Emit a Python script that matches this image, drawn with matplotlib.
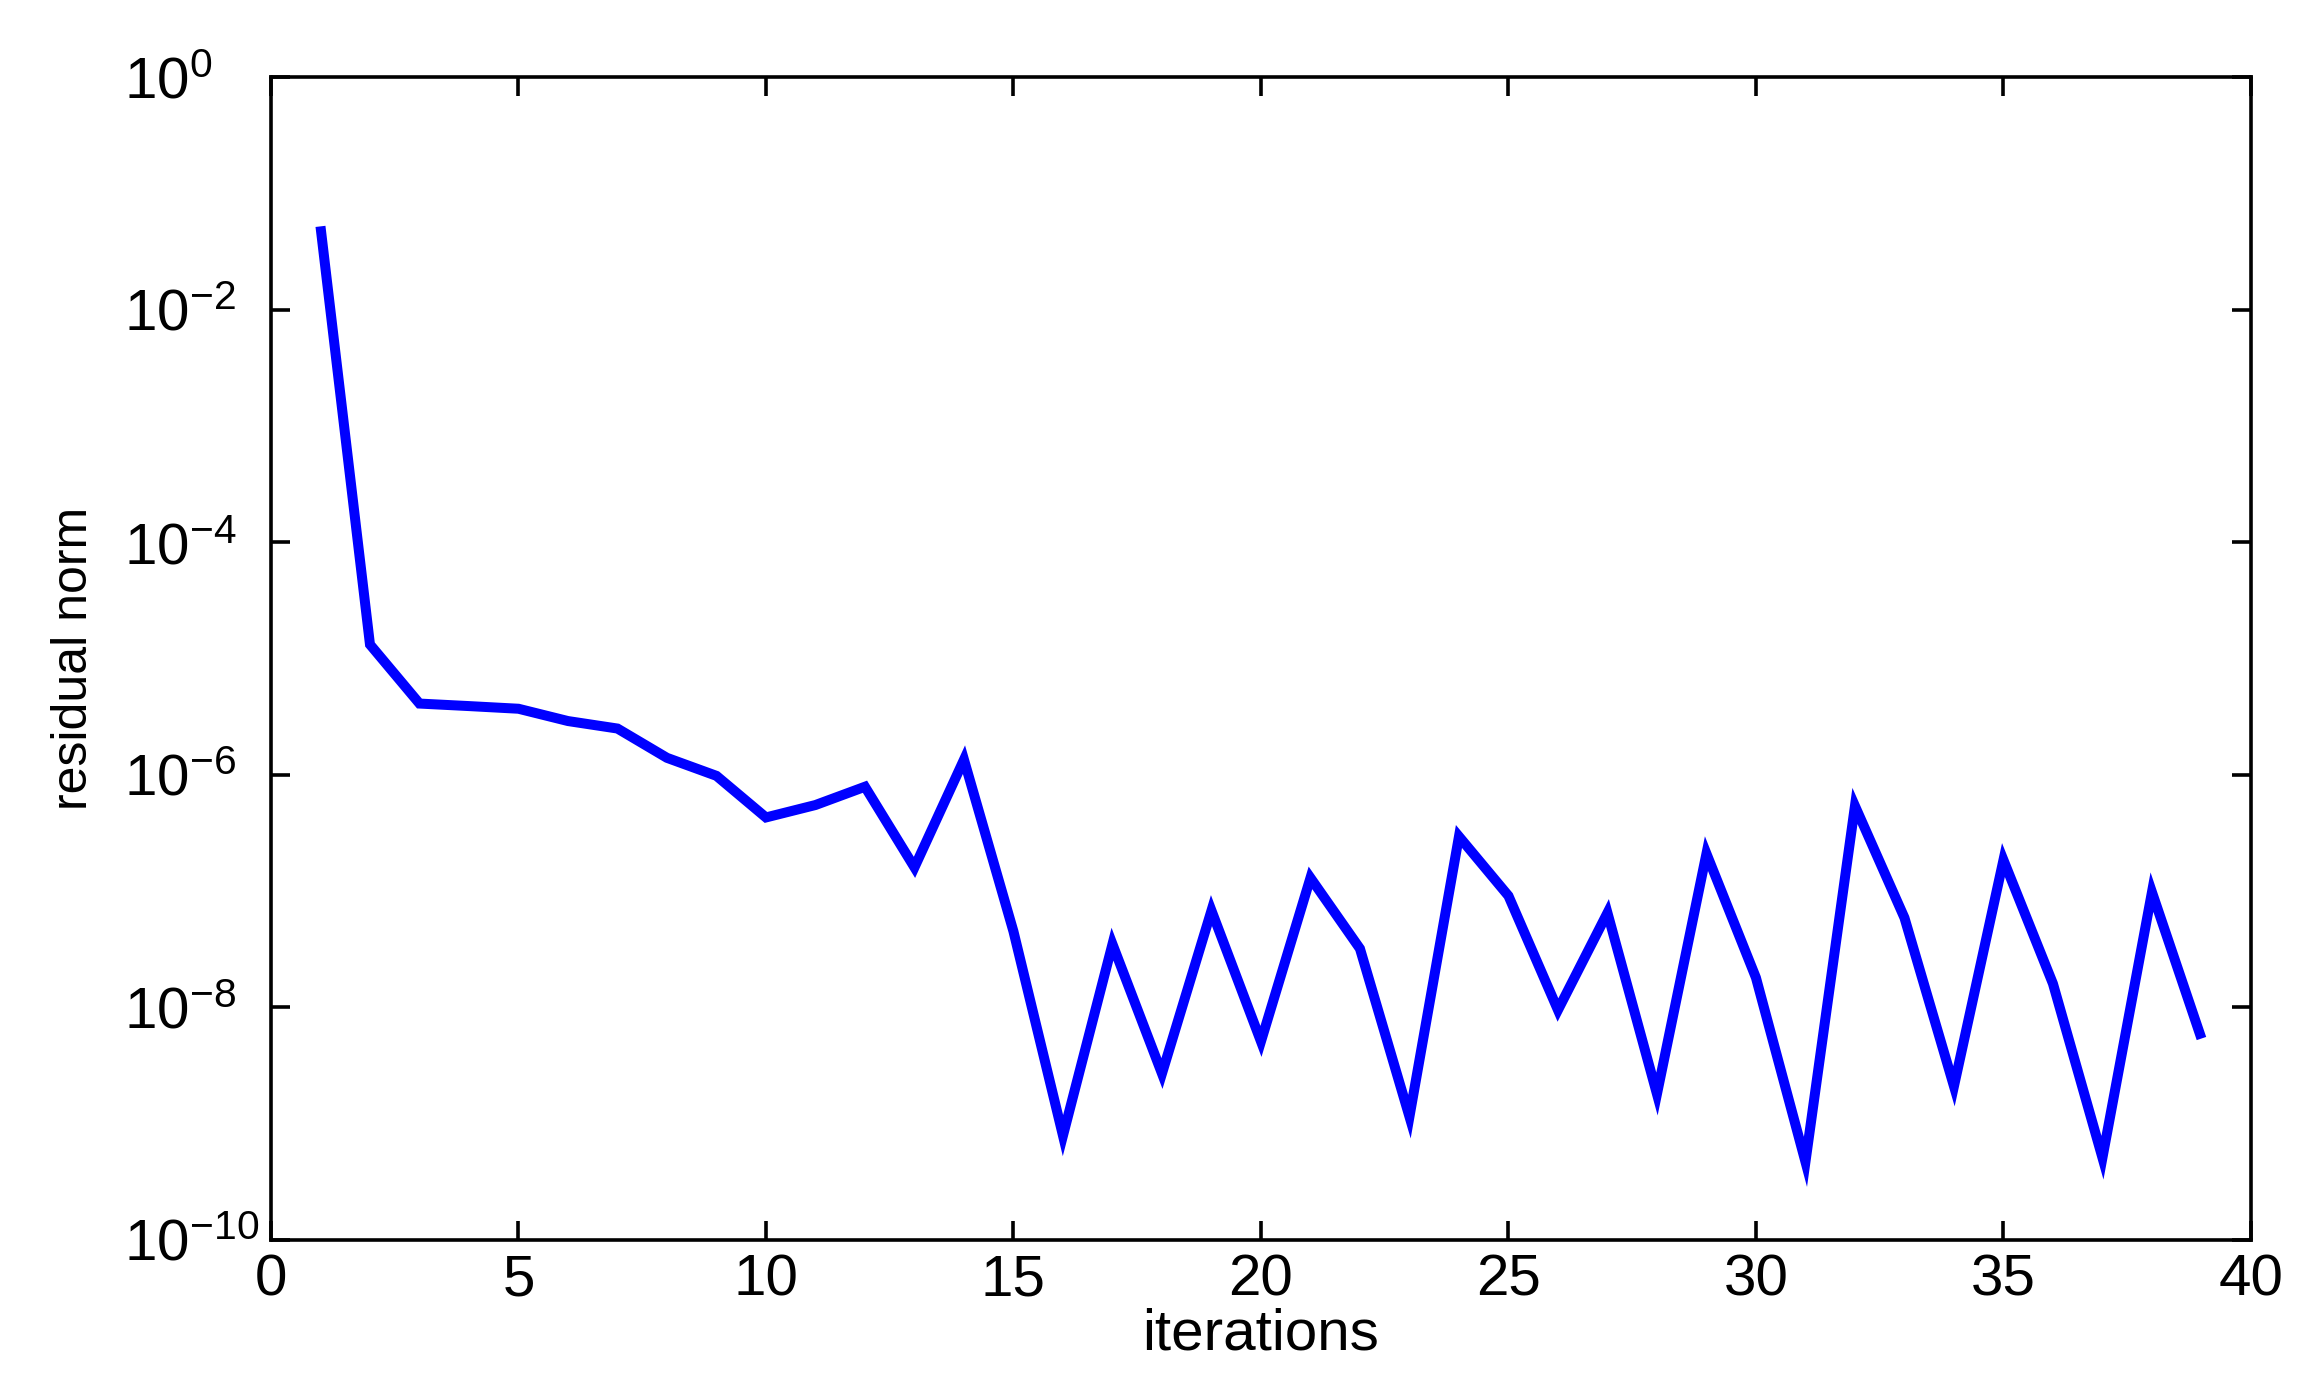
import matplotlib
matplotlib.use("Agg")
import matplotlib.pyplot as plt
from matplotlib.ticker import LogLocator, NullLocator

plt.rcParams['font.family'] = ['Liberation Sans', 'DejaVu Sans']
plt.rcParams['mathtext.fontset'] = 'custom'
plt.rcParams['mathtext.rm'] = 'Liberation Sans'
plt.rcParams['mathtext.it'] = 'Liberation Sans'
plt.rcParams['mathtext.bf'] = 'Liberation Sans:bold'

# data
iterations = list(range(1, 40))
residual = [
    5.2e-2, 1.32e-5, 4.1e-6, 3.9e-6, 3.7e-6, 2.9e-6, 2.5e-6, 1.4e-6, 9.8e-7, 4.3e-7,
    5.5e-7, 7.9e-7, 1.6e-7, 1.35e-6, 4.5e-8, 7.9e-10, 3.5e-8, 2.7e-9, 6.8e-8, 5.1e-9,
    1.3e-7, 3.2e-8, 1.15e-9, 2.95e-7, 9.1e-8, 9.5e-9, 6.5e-8, 1.8e-9, 2.1e-7, 1.8e-8,
    4.7e-10, 5.4e-7, 5.9e-8, 2.1e-9, 1.85e-7, 1.6e-8, 5.1e-10, 9.8e-8, 5.4e-9,
]
x_ticks = [0, 5, 10, 15, 20, 25, 30, 35, 40]

fig = plt.figure(figsize=(11.61, 6.905), dpi=200)
ax = fig.add_axes([0.1167, 0.1021, 0.8527, 0.8421])

ax.plot(iterations, residual, color='#0000FF', linewidth=3.6,
        solid_joinstyle='miter', solid_capstyle='butt')

ax.set_yscale('log')
ax.set_xlim(0, 40)
ax.set_ylim(1e-10, 1e0)
ax.set_xticks(x_ticks)
ax.yaxis.set_major_locator(LogLocator(base=100.0, numticks=10))
ax.yaxis.set_minor_locator(NullLocator())

ax.tick_params(which='both', direction='in', top=True, right=True,
               length=7, width=1.3, labelsize=21, pad=5)
ax.tick_params(axis='y', pad=53)
for sp in ax.spines.values():
    sp.set_linewidth(1.3)

ax.set_xlabel('iterations', fontsize=21, labelpad=0)
ax.set_ylabel('residual norm', fontsize=18)
ax.yaxis.set_label_coords(-0.088, 0.5)

# matlab style: the "10" bases line up on the left
fig.canvas.draw()
for lbl in ax.get_yticklabels():
    lbl.set_horizontalalignment('left')

fig.savefig('out.png', dpi=200)
